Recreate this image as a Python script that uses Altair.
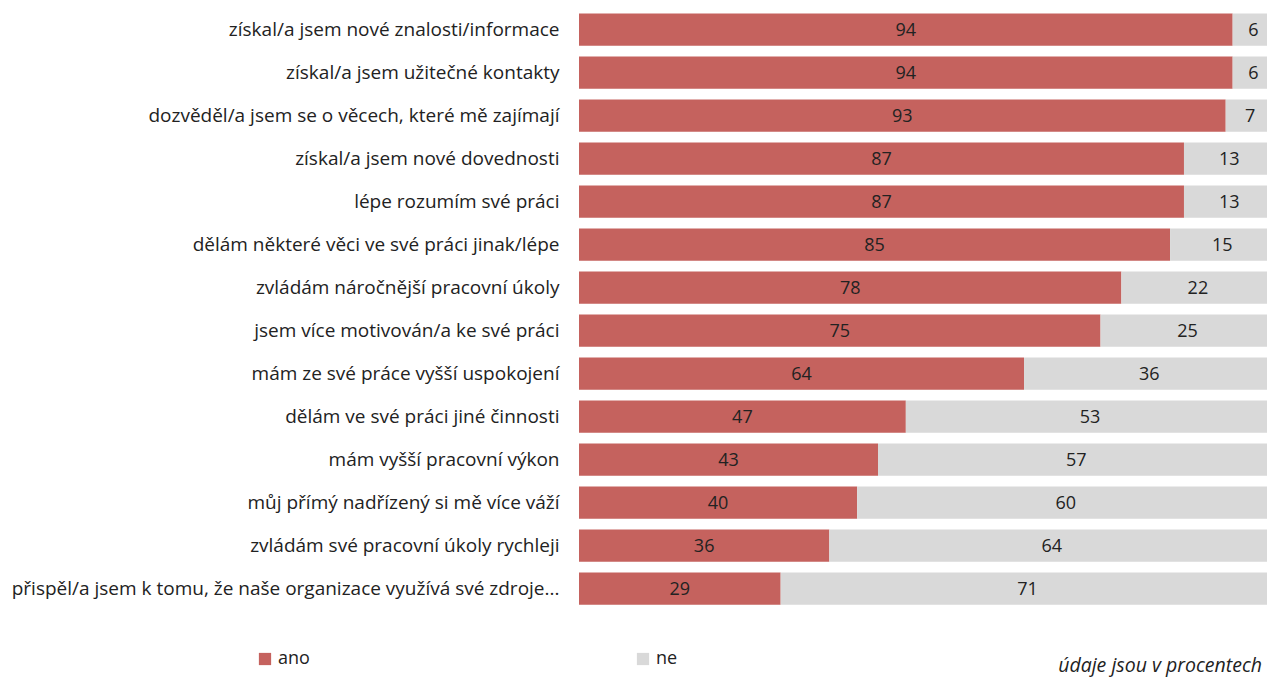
import altair as alt
import pandas as pd

categories = [
    "získal/a jsem nové znalosti/informace",
    "získal/a jsem užitečné kontakty",
    "dozvěděl/a jsem se o věcech, které mě zajímají",
    "získal/a jsem nové dovednosti",
    "lépe rozumím své práci",
    "dělám některé věci ve své práci jinak/lépe",
    "zvládám náročnější pracovní úkoly",
    "jsem více motivován/a ke své práci",
    "mám ze své práce vyšší uspokojení",
    "dělám ve své práci jiné činnosti",
    "mám vyšší pracovní výkon",
    "můj přímý nadřízený si mě více váží",
    "zvládám své pracovní úkoly rychleji",
    "přispěl/a jsem k tomu, že naše organizace využívá své zdroje...",
]
ano = [94, 94, 93, 87, 87, 85, 78, 75, 64, 47, 43, 40, 36, 29]
ne = [6, 6, 7, 13, 13, 15, 22, 25, 36, 53, 57, 60, 64, 71]
series = ["ano", "ne"]
colors = ["#C5625E", "#D9D9D9"]

rows = []
for c, a, n in zip(categories, ano, ne):
    rows.append({"cat": c, "series": "ano", "value": a, "start": 0, "end": a})
    rows.append({"cat": c, "series": "ne", "value": n, "start": a, "end": a + n})
df = pd.DataFrame(rows)
df["mid"] = (df["start"] + df["end"]) / 2

FONT = "Open Sans"
TXT = "#222222"
W, H = 688, 602
xscale = alt.Scale(domain=[0, 98.94], nice=False, zero=True)
ysort = categories

base = alt.Chart(df)

bars = base.mark_bar(clip=True).encode(
    y=alt.Y("cat:N", sort=ysort, title=None,
            scale=alt.Scale(paddingInner=0.25, paddingOuter=0.125),
            axis=alt.Axis(domain=False, ticks=False, grid=False, labelPadding=20, labelLimit=600,
                          labelFontSize=19, labelColor=TXT, labelFont=FONT)),
    x=alt.X("start:Q", scale=xscale, axis=None),
    x2="end:Q",
    color=alt.Color("series:N", scale=alt.Scale(domain=series, range=colors),
                    legend=alt.Legend(title=None, orient="none", direction="horizontal",
                                      legendX=-323, legendY=642, symbolType="square",
                                      symbolSize=150, symbolStrokeWidth=0, columnPadding=324,
                                      labelFontSize=18, labelFont=FONT,
                                      labelColor=TXT)),
)

labels = base.mark_text(fontSize=18, font=FONT, color=TXT, baseline="middle", dy=1).encode(
    y=alt.Y("cat:N", sort=ysort, title=None),
    x=alt.X("mid:Q", scale=xscale),
    text="value:Q",
)

note = alt.Chart(pd.DataFrame({"t": ["údaje jsou v procentech"]})).mark_text(
    align="right", baseline="bottom", fontSize=19.5, fontStyle="italic",
    font=FONT, color=TXT
).encode(x=alt.value(W - 5), y=alt.value(H + 66), text="t:N")

chart = alt.layer(bars, labels, note).properties(
    width=W, height=H,
    background="white",
    autosize=alt.AutoSizeParams(type="none"),
    padding={"left": 579, "top": 8, "right": 0, "bottom": 67},
).configure_view(strokeWidth=0, stroke="transparent").configure_axis(domain=False, grid=False, ticks=False)

chart.save("out.html", embed_options={"renderer": "svg", "actions": False})
